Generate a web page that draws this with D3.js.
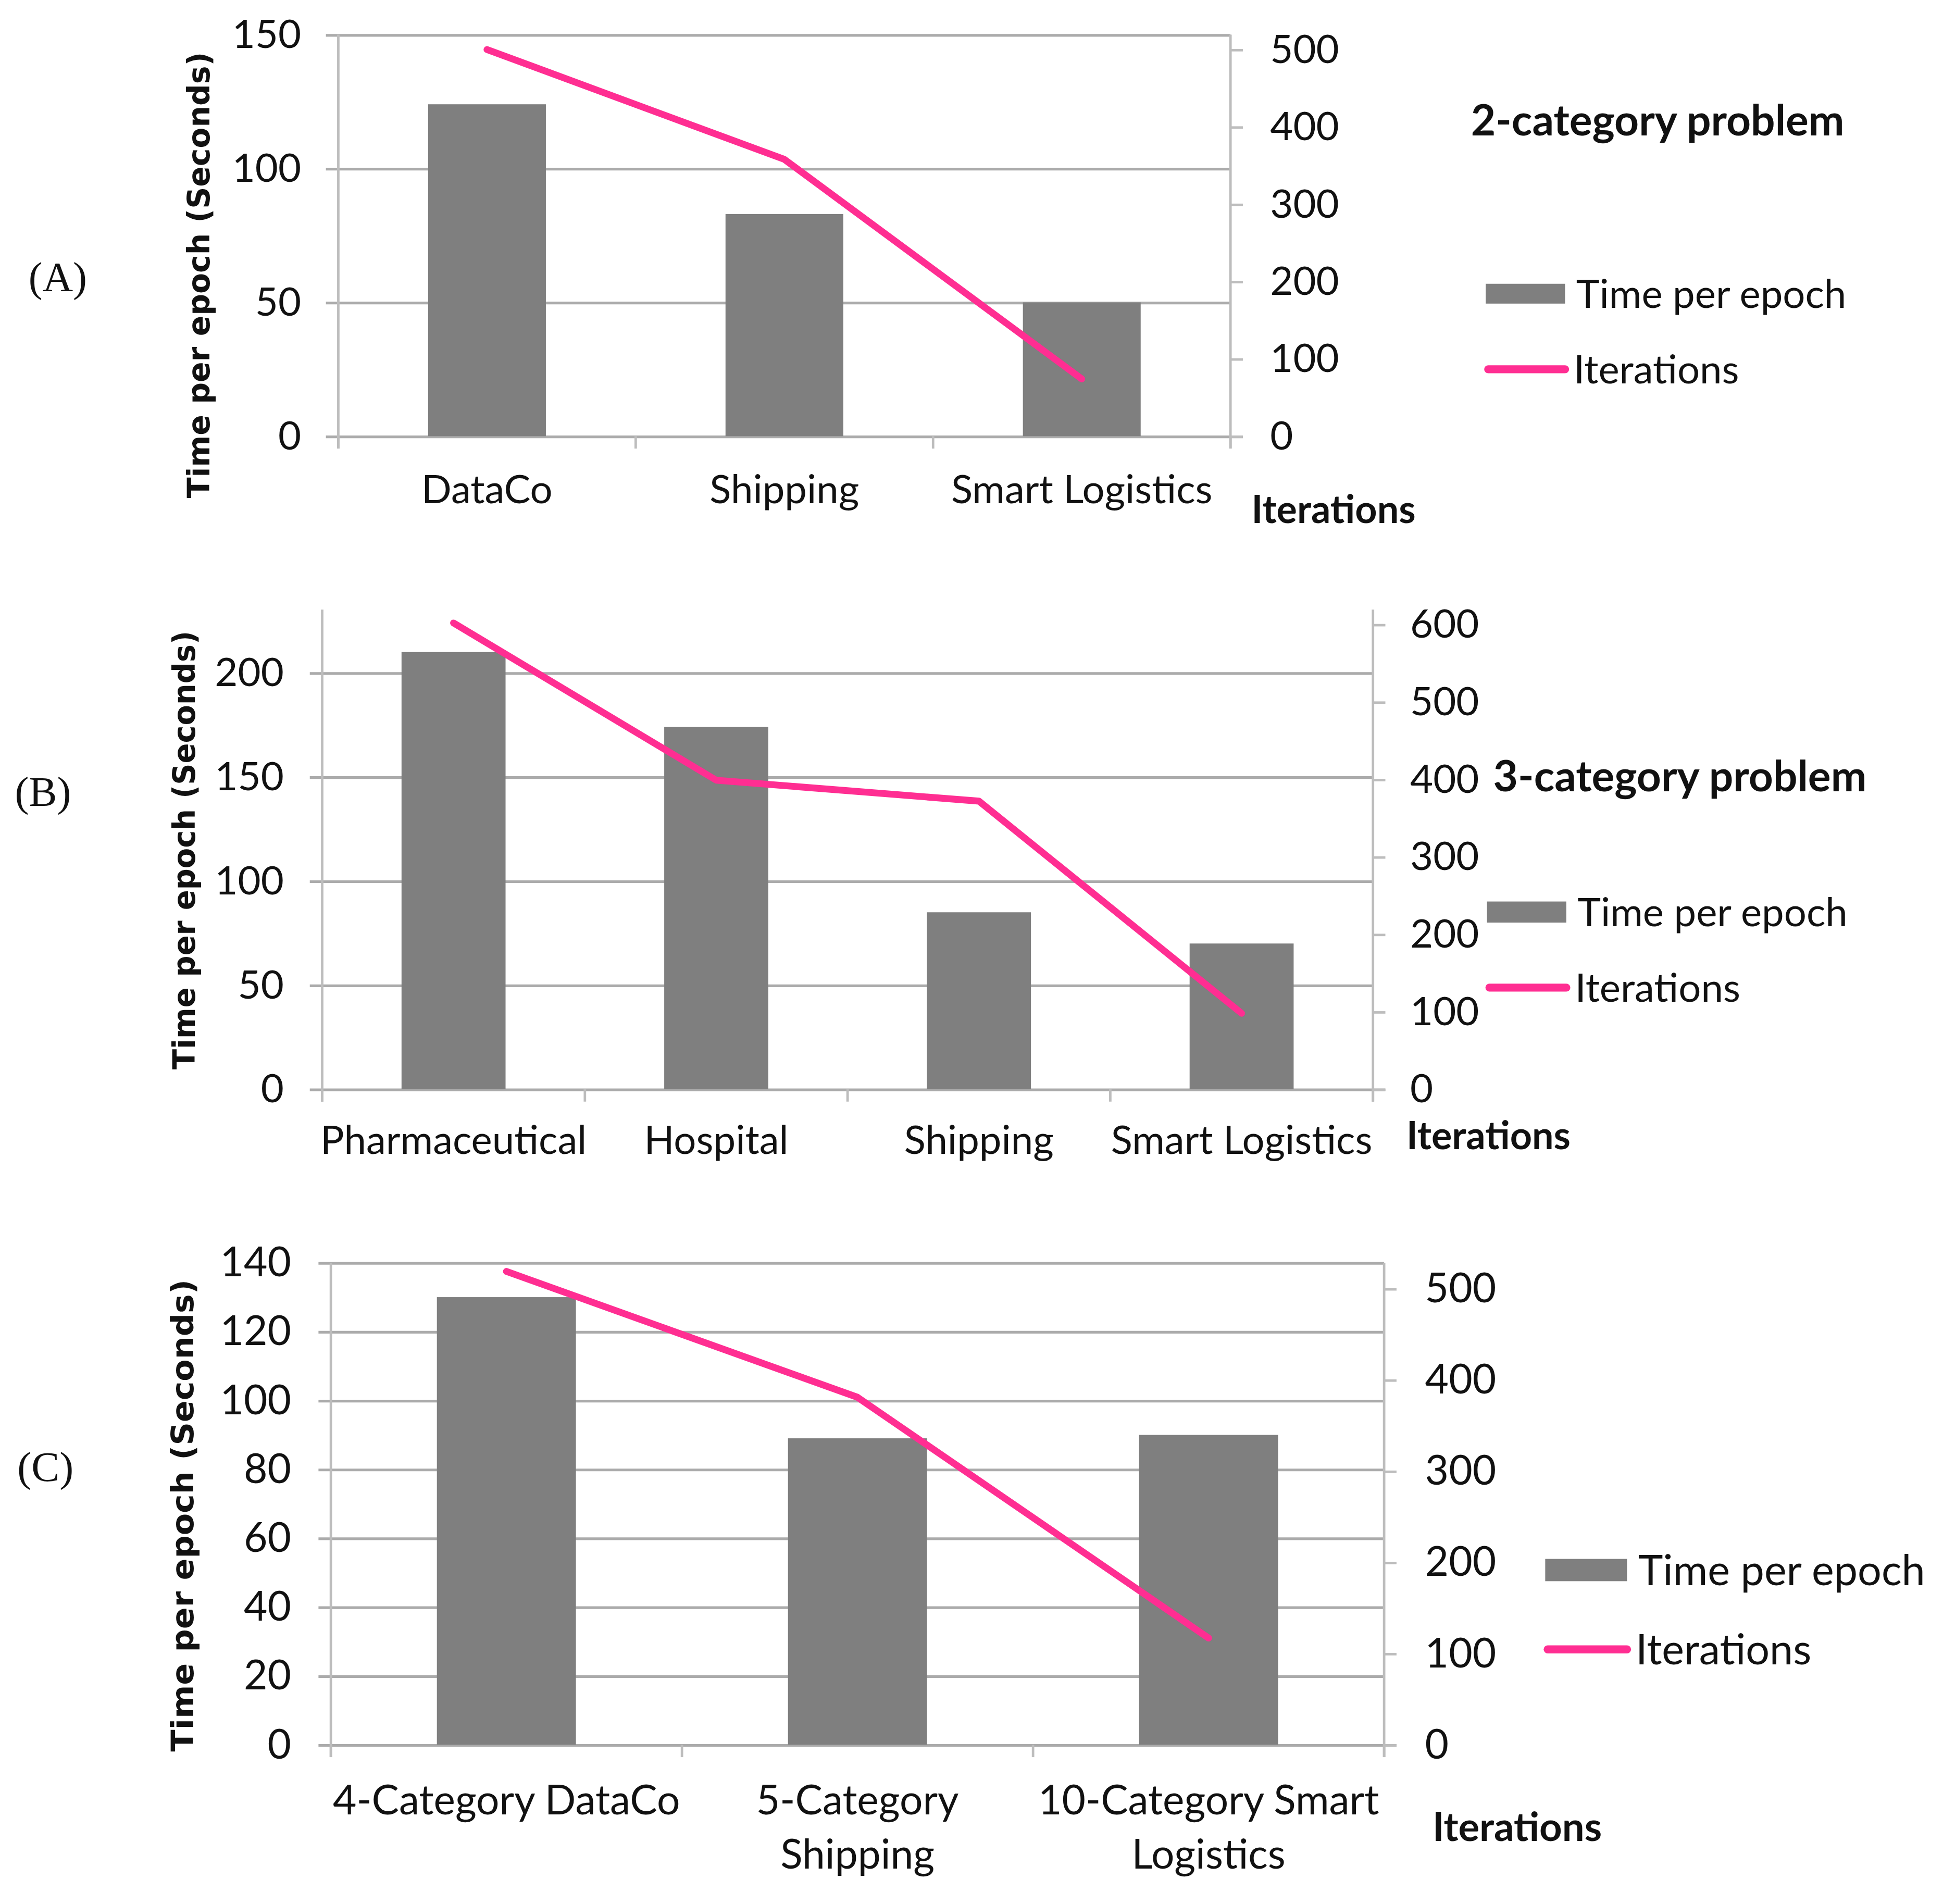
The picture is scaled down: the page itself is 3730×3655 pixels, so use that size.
<!DOCTYPE html>
<html>
<head>
<meta charset="utf-8">
<script src="https://cdn.jsdelivr.net/npm/d3@7"></script>
<style>
body { margin: 0; background: #fff; }
text { font-family: Lato, 'Open Sans', sans-serif; fill: #111; }
</style>
</head>
<body>
<div id="fig"></div>
<script>
// (A) 2-category problem
var catsA = ['DataCo', 'Shipping', 'Smart Logistics']
var timeA = [124, 83, 50]
var iterA = [500, 358, 74]
var leftTicksA = [0, 50, 100, 150]
var rightTicksA = [0, 100, 200, 300, 400, 500]

// (B) 3-category problem
var catsB = ['Pharmaceutical', 'Hospital', 'Shipping', 'Smart Logistics']
var timeB = [210, 174, 85, 70]
var iterB = [602, 399, 372, 98]
var leftTicksB = [0, 50, 100, 150, 200]
var rightTicksB = [0, 100, 200, 300, 400, 500, 600]

// (C) multi-category
var catsC = ['4-Category DataCo', '5-Category Shipping', '10-Category Smart Logistics']
var labelLinesC = [['4-Category DataCo'], ['5-Category', 'Shipping'], ['10-Category Smart', 'Logistics']]
var timeC = [130, 89, 90]
var iterC = [519, 381, 117]
var leftTicksC = [0, 20, 40, 60, 80, 100, 120, 140]
var rightTicksC = [0, 100, 200, 300, 400, 500]

var W = 1568, H = 1536.5

var svg = d3.select('#fig').append('svg')
	.attr('width', 3730)
	.attr('height', 3655)
	.attr('viewBox', '0 0 ' + W + ' ' + H)

var barColor = '#7f7f7f'
var lineColor = '#ff2e92'
var gridColor = '#ababab'
var axisColor = '#bdbdbd'

function makeChart(cfg) {
	var g = svg.append('g')
	var w = cfg.right - cfg.left

	var x = d3.scaleBand().domain(cfg.cats).range([cfg.left, cfg.right])
	var xBar = d3.scaleBand().domain(cfg.cats).range([cfg.left, cfg.right])
		.paddingInner(0.604).paddingOuter(0.302)
	var yL = d3.scaleLinear().domain([0, d3.max(cfg.leftTicks)]).range([cfg.base, cfg.leftTop])
	var yR = d3.scaleLinear().domain([0, d3.max(cfg.rightTicks)]).range([cfg.base, cfg.rightTop])

	// gridlines + left tick labels
	var gl = g.append('g')
		.attr('transform', 'translate(' + cfg.left + ',0)')
		.call(d3.axisLeft(yL).tickValues(cfg.leftTicks).tickSize(-w).tickPadding(cfg.padL))
	gl.attr('font-family', null).attr('font-size', cfg.fs)
	gl.select('.domain').remove()
	gl.selectAll('.tick line')
		.attr('x1', -10)
		.attr('stroke', gridColor)
		.attr('stroke-width', 2.2)
		.filter(function(d) { return d === 0 })
		.attr('x2', w + 10)
	gl.selectAll('.tick text').attr('fill', '#111')

	// bars
	g.selectAll('rect.bar')
		.data(cfg.time)
		.enter().append('rect')
		.attr('class', 'bar')
		.attr('x', function(d, i) { return xBar(cfg.cats[i]) })
		.attr('width', xBar.bandwidth())
		.attr('y', function(d) { return yL(d) })
		.attr('height', function(d) { return cfg.base - yL(d) })
		.attr('fill', barColor)

	// axis lines
	g.append('line')
		.attr('x1', cfg.left).attr('x2', cfg.left)
		.attr('y1', cfg.top).attr('y2', cfg.base + 10)
		.attr('stroke', axisColor).attr('stroke-width', 2)
	g.append('line')
		.attr('x1', cfg.right).attr('x2', cfg.right)
		.attr('y1', cfg.top).attr('y2', cfg.base + 10)
		.attr('stroke', axisColor).attr('stroke-width', 2)

	// category boundary ticks
	var bounds = cfg.cats.map(function(c) { return x(c) }).concat([cfg.right])
	g.selectAll('line.sep')
		.data(bounds)
		.enter().append('line')
		.attr('class', 'sep')
		.attr('x1', function(d) { return d }).attr('x2', function(d) { return d })
		.attr('y1', cfg.base).attr('y2', cfg.base + 10)
		.attr('stroke', axisColor).attr('stroke-width', 2)

	// right axis
	var gr = g.append('g')
		.attr('transform', 'translate(' + cfg.right + ',0)')
		.call(d3.axisRight(yR).tickValues(cfg.rightTicks).tickSize(10).tickPadding(cfg.padR - 10))
	gr.attr('font-family', null).attr('font-size', cfg.fs)
	gr.select('.domain').remove()
	gr.selectAll('.tick line').attr('stroke', axisColor).attr('stroke-width', 2)
	gr.selectAll('.tick text').attr('fill', '#111')

	// category labels
	var labels = g.selectAll('text.cat')
		.data(cfg.labelLines)
		.enter().append('text')
		.attr('class', 'cat')
		.attr('text-anchor', 'middle')
		.attr('font-size', cfg.fs)
		.attr('y', cfg.base + cfg.labelOff)
	labels.each(function(lines, i) {
		var t = d3.select(this)
		lines.forEach(function(s, k) {
			t.append('tspan')
				.attr('x', x(cfg.cats[i]) + x.bandwidth() / 2)
				.attr('dy', k === 0 ? 0 : cfg.lineH)
				.text(s)
		})
	})

	// iterations line
	var line = d3.line()
		.x(function(d, i) { return x(cfg.cats[i]) + x.bandwidth() / 2 })
		.y(function(d) { return yR(d) })
	g.append('path')
		.datum(cfg.iter)
		.attr('d', line)
		.attr('fill', 'none')
		.attr('stroke', lineColor)
		.attr('stroke-width', 5.5)
		.attr('stroke-linejoin', 'round')
		.attr('stroke-linecap', 'round')

	// y axis title
	g.append('text')
		.attr('transform', 'translate(' + cfg.titleX + ',' + cfg.titleY + ') rotate(-90)')
		.attr('text-anchor', 'middle')
		.attr('dy', '0.36em')
		.style('font-family', "'DejaVu Sans', Verdana, sans-serif")
		.attr('font-weight', 'bold')
		.attr('font-size', 25)
		.attr('textLength', cfg.titleLen)
		.attr('lengthAdjust', 'spacingAndGlyphs')
		.text('Time per epoch (Seconds)')

	// "Iterations" under right axis
	g.append('text')
		.attr('x', cfg.iterX).attr('y', cfg.iterY)
		.attr('dy', '0.36em')
		.attr('font-weight', 'bold')
		.attr('font-size', cfg.fs - 1)
		.text('Iterations')

	if (cfg.header) {
		g.append('text')
			.attr('x', cfg.header[1]).attr('y', cfg.header[2])
			.attr('dy', '0.36em')
			.attr('font-weight', 'bold')
			.attr('font-size', cfg.fs + 2.5)
			.text(cfg.header[0])
	}

	// legend
	var lg = cfg.legend
	g.append('rect')
		.attr('x', lg.x).attr('y', lg.y1 - lg.h / 2)
		.attr('width', lg.w).attr('height', lg.h)
		.attr('fill', barColor)
	g.append('text')
		.attr('x', lg.x + lg.w + 9).attr('y', lg.y1)
		.attr('dy', '0.36em')
		.attr('font-size', cfg.legFs)
		.text('Time per epoch')
	g.append('line')
		.attr('x1', lg.x + 2).attr('x2', lg.x + lg.w)
		.attr('y1', lg.y2).attr('y2', lg.y2)
		.attr('stroke', lineColor).attr('stroke-width', 6.5)
		.attr('stroke-linecap', 'round')
	g.append('text')
		.attr('x', lg.x + lg.w + 7).attr('y', lg.y2)
		.attr('dy', '0.36em')
		.attr('font-size', cfg.legFs)
		.text('Iterations')

	// panel label
	g.append('text')
		.attr('x', cfg.panel[1]).attr('y', cfg.panel[2])
		.attr('dy', '0.3em')
		.style('font-family', "'Liberation Serif', 'Times New Roman', serif")
		.attr('font-size', 34)
		.text(cfg.panel[0])
}

makeChart({
	cats: catsA, labelLines: catsA.map(function(c) { return [c] }),
	time: timeA, iter: iterA, leftTicks: leftTicksA, rightTicks: rightTicksA,
	left: 273, right: 993, base: 352, top: 28, leftTop: 28, rightTop: 40,
	fs: 32, legFs: 32, padL: 30, padR: 32, labelOff: 54, lineH: 44,
	titleX: 160, titleY: 222, titleLen: 360,
	iterX: 1010, iterY: 411,
	header: ['2-category problem', 1187, 97],
	legend: { x: 1199, w: 64, h: 16, y1: 237, y2: 298 },
	panel: ['(A)', 23, 225]
})

makeChart({
	cats: catsB, labelLines: catsB.map(function(c) { return [c] }),
	time: timeB, iter: iterB, leftTicks: leftTicksB, rightTicks: rightTicksB,
	left: 260, right: 1108, base: 879, top: 492, leftTop: 543, rightTop: 504,
	fs: 32, legFs: 32, padL: 31, padR: 30, labelOff: 52, lineH: 44,
	titleX: 148, titleY: 686, titleLen: 354,
	iterX: 1135, iterY: 916,
	header: ['3-category problem', 1205, 626],
	legend: { x: 1200, w: 64, h: 17, y1: 736, y2: 797 },
	panel: ['(B)', 12, 640]
})

makeChart({
	cats: catsC, labelLines: labelLinesC,
	time: timeC, iter: iterC, leftTicks: leftTicksC, rightTicks: rightTicksC,
	left: 267, right: 1117, base: 1408, top: 1019, leftTop: 1019, rightTop: 1040,
	fs: 33, legFs: 34, padL: 32, padR: 33, labelOff: 56, lineH: 44,
	titleX: 147, titleY: 1223, titleLen: 381,
	iterX: 1156, iterY: 1474,
	header: null,
	legend: { x: 1247, w: 66, h: 18, y1: 1267, y2: 1331 },
	panel: ['(C)', 14, 1185]
})
</script>
</body>
</html>
